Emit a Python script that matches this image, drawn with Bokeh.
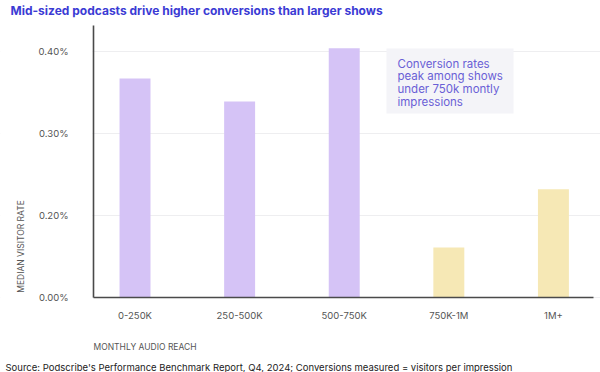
import math
from bokeh.plotting import figure
from bokeh.models import ColumnDataSource, Label, BoxAnnotation, FixedTicker, Range1d
from bokeh.embed import file_html
from bokeh.resources import INLINE

categories = ["0-250K", "250-500K", "500-750K", "750K-1M", "1M+"]
rates = [0.367, 0.339, 0.404, 0.161, 0.232]
bar_colors = ["#d5c3f6", "#d5c3f6", "#d5c3f6", "#f6e8b5", "#f6e8b5"]
y_ticks = [0.1, 0.2, 0.3, 0.4]
y_tick_labels = ["0.00%", "0.20%", "0.30%", "0.40%"]

FONT = "Inter"
Y_BASE = 0.10          # value at the drawn x-axis
X_AXIS_LEFT = -0.397   # x position of the y-axis line
X_AXIS_RIGHT = 4.383

src = ColumnDataSource(dict(x=list(range(len(categories))), top=rates, color=bar_colors))

p = figure(width=600, height=372, output_backend="svg", toolbar_location=None,
           x_range=Range1d(-1.286, 4.450), y_range=Range1d(0.00854, 0.4622),
           min_border=0)
p.outline_line_color = None
p.background_fill_color = "white"
p.border_fill_color = "white"

p.vbar(x="x", top="top", bottom=Y_BASE, width=0.296, color="color", source=src, line_color=None)

p.xgrid.grid_line_color = None
p.ygrid.grid_line_color = "#eeeef0"
p.ygrid.ticker = FixedTicker(ticks=y_ticks)

# white strip hiding gridlines left of the y axis
p.add_layout(BoxAnnotation(left=0, right=92, bottom=0, top=372,
                           left_units="screen", right_units="screen",
                           top_units="screen", bottom_units="screen",
                           fill_color="white", fill_alpha=1.0, line_color=None,
                           level="underlay"))

p.xaxis.ticker = FixedTicker(ticks=list(range(len(categories))))
p.xaxis.major_label_overrides = {i: c for i, c in enumerate(categories)}
p.xaxis.fixed_location = Y_BASE
p.xaxis.bounds = (X_AXIS_LEFT, X_AXIS_RIGHT)
p.yaxis.ticker = FixedTicker(ticks=y_ticks)
p.yaxis.major_label_overrides = {t: l for t, l in zip(y_ticks, y_tick_labels)}
p.yaxis.fixed_location = X_AXIS_LEFT
p.yaxis.bounds = (Y_BASE, 0.432)

for ax in (p.xaxis[0], p.yaxis[0]):
    ax.axis_line_color = "#4a4a4a"
    ax.axis_line_width = 1.6
    ax.major_tick_line_color = None
    ax.minor_tick_line_color = None
    ax.major_tick_out = 0
    ax.major_tick_in = 0
    ax.major_label_text_font = FONT
    ax.major_label_text_font_size = "9.5px"
    ax.major_label_text_color = "#555555"
p.yaxis.major_label_standoff = 25
p.xaxis.major_label_standoff = 12

# annotation box
p.add_layout(BoxAnnotation(left=386, right=513, top=324, bottom=259,
                           left_units="screen", right_units="screen",
                           top_units="screen", bottom_units="screen",
                           fill_color="#f4f4f8", fill_alpha=1.0, line_color=None))
p.add_layout(Label(x=397, y=316, x_units="screen", y_units="screen",
                   text="Conversion rates\npeak among shows\nunder 750k montly\nimpressions",
                   text_font=FONT, text_font_size="11.5px", text_color="#6a5fd6",
                   text_baseline="top", text_align="left", text_line_height=0.92))

# title
p.add_layout(Label(x=10, y=362, x_units="screen", y_units="screen",
                   text="Mid-sized podcasts drive higher conversions than larger shows",
                   text_font=FONT, text_font_size="12px", text_font_style="bold",
                   text_color="#3b3bd4", text_baseline="alphabetic", text_align="left"))
# y axis label
p.add_layout(Label(x=20, y=126, x_units="screen", y_units="screen", angle=math.pi / 2,
                   text="MEDIAN VISITOR RATE", text_font=FONT, text_font_size="8.5px",
                   text_color="#555555", text_baseline="middle", text_align="center"))
# x axis label
p.add_layout(Label(x=93, y=26, x_units="screen", y_units="screen",
                   text="MONTHLY AUDIO REACH", text_font=FONT, text_font_size="8.5px",
                   text_font_style="normal", text_color="#555555",
                   text_baseline="middle", text_align="left"))
# source
p.add_layout(Label(x=5, y=5, x_units="screen", y_units="screen",
                   text="Source: Podscribe's Performance Benchmark Report, Q4, 2024; Conversions measured = visitors per impression",
                   text_font=FONT, text_font_size="9.5px", text_color="#222222",
                   text_baseline="middle", text_align="left"))

open("out.html", "w").write(file_html(p, INLINE))
